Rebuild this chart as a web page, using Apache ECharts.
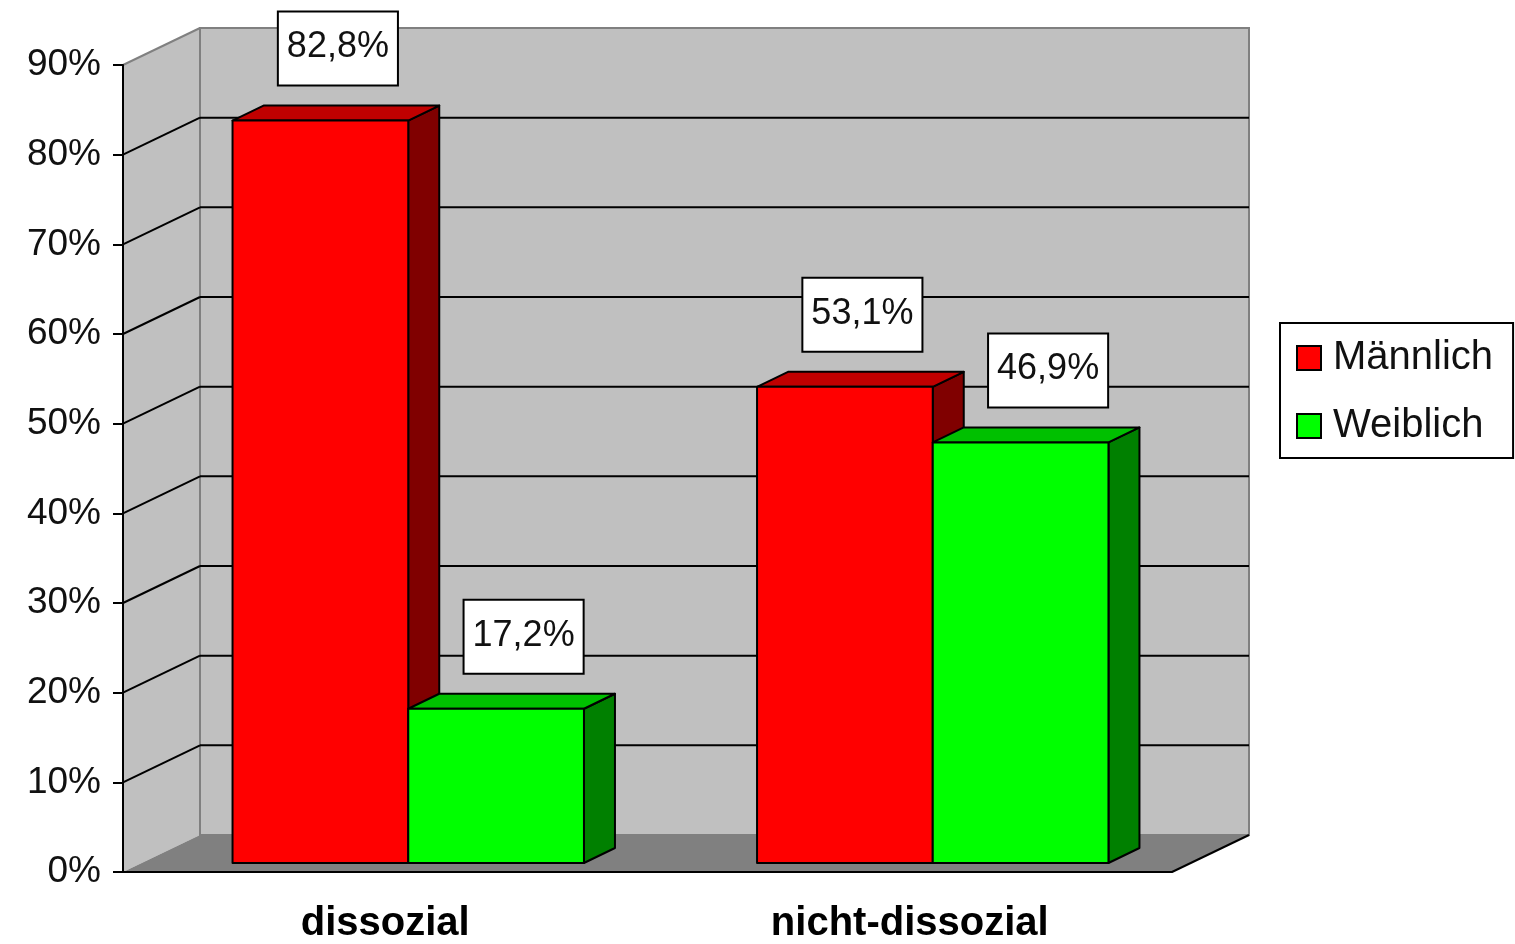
<!DOCTYPE html>
<html>
<head>
<meta charset="utf-8">
<script src="https://cdn.jsdelivr.net/npm/echarts@6/dist/echarts.min.js"></script>
<style>
  html, body { margin: 0; padding: 0; background: #fff; }
  #chart { width: 1515px; height: 944px; }
</style>
</head>
<body>
<div id="chart"></div>
<script>
const categories = ["dissozial", "nicht-dissozial"];
const maennlich = [82.8, 53.1];
const weiblich = [17.2, 46.9];
const yMax = 90;
const yStep = 10;
const gridValues = [10, 20, 30, 40, 50, 60, 70, 80];

const FONT = "'Liberation Sans', Arial, sans-serif";

// 3d look: wall depth and bar placement, in px
const WALL_DX = 77, WALL_DY = -37;
const BAR_SX = 23, BAR_SY = -9;
const BAR_DX = 31, BAR_DY = -15;

const palette = [
    { front: "#ff0000", top: "#c00000", side: "#800000", labelShift: 2 },
    { front: "#00ff00", top: "#00c000", side: "#008000", labelShift: 12 }
];

const chart = echarts.init(document.getElementById("chart"));

function renderWalls(params, api) {
    const cs = params.coordSys;
    const x0 = cs.x, x1 = cs.x + cs.width;
    const yTop = api.coord([0, yMax])[1];
    const yBase = api.coord([0, 0])[1];
    const children = [
        {
            type: "polygon",
            shape: { points: [[x0, yTop], [x0 + WALL_DX, yTop + WALL_DY], [x0 + WALL_DX, yBase + WALL_DY], [x0, yBase]] },
            style: { fill: "#c0c0c0" }
        },
        {
            type: "rect",
            shape: { x: x0 + WALL_DX, y: yTop + WALL_DY, width: cs.width, height: yBase - yTop },
            style: { fill: "#c0c0c0", stroke: "#808080", lineWidth: 2 }
        },
        {
            type: "polygon",
            shape: { points: [[x0, yBase], [x1, yBase], [x1 + WALL_DX, yBase + WALL_DY], [x0 + WALL_DX, yBase + WALL_DY]] },
            style: { fill: "#808080" }
        },
        {
            type: "line",
            shape: { x1: x0, y1: yTop, x2: x0 + WALL_DX, y2: yTop + WALL_DY },
            style: { stroke: "#808080", lineWidth: 2 }
        },
        {
            type: "line",
            shape: { x1: x1, y1: yBase, x2: x1 + WALL_DX, y2: yBase + WALL_DY },
            style: { stroke: "#000", lineWidth: 2 }
        }
    ];
    gridValues.forEach(v => {
        const y = api.coord([0, v])[1];
        children.push({
            type: "line",
            shape: { x1: x0 + WALL_DX, y1: y + WALL_DY, x2: x1 + WALL_DX, y2: y + WALL_DY },
            style: { stroke: "#000", lineWidth: 2 }
        });
        children.push({
            type: "line",
            shape: { x1: x0, y1: y, x2: x0 + WALL_DX, y2: y + WALL_DY },
            style: { stroke: "#000", lineWidth: 2 }
        });
    });
    return { type: "group", children };
}

function makeBarRenderer(sIndex) {
    const c = palette[sIndex];
    return function (params, api) {
        const i = api.value(0), v = api.value(1);
        const base = api.coord([i, 0]);
        const band = api.size([1, 0])[0];
        const bw = band * 0.335;
        const left = base[0] + BAR_SX + (sIndex === 0 ? -bw : 0);
        const right = left + bw;
        const top = api.coord([i, v])[1] + BAR_SY;
        const bottom = base[1] + BAR_SY;
        const stroke = { stroke: "#000", lineWidth: 2, lineJoin: "round" };
        const text = v.toFixed(1).replace(".", ",") + "%";
        return {
            type: "group",
            children: [
                {
                    type: "polygon",
                    shape: { points: [[right, top], [right + BAR_DX, top + BAR_DY], [right + BAR_DX, bottom + BAR_DY], [right, bottom]] },
                    style: Object.assign({ fill: c.side }, stroke)
                },
                {
                    type: "polygon",
                    shape: { points: [[left, top], [left + BAR_DX, top + BAR_DY], [right + BAR_DX, top + BAR_DY], [right, top]] },
                    style: Object.assign({ fill: c.top }, stroke)
                },
                {
                    type: "rect",
                    shape: { x: left, y: top, width: bw, height: bottom - top },
                    style: Object.assign({ fill: c.front }, stroke)
                },
                {
                    type: "text",
                    x: left + bw / 2 + BAR_DX / 2 + c.labelShift,
                    y: top + BAR_DY - 21,
                    style: {
                        text: text,
                        align: "center",
                        verticalAlign: "bottom",
                        fontFamily: FONT,
                        fontSize: 36,
                        lineHeight: 40,
                        fill: "#111",
                        backgroundColor: "#fff",
                        borderColor: "#000",
                        borderWidth: 2,
                        padding: [15, 8, 17, 8]
                    }
                }
            ]
        };
    };
}

const option = {
    animation: false,
    backgroundColor: "#fff",
    grid: { left: 123, right: 343, top: 65, bottom: 72 },
    legend: {
        orient: "vertical",
        left: 1280,
        top: 323,
        padding: [15, 20, 12, 16],
        itemWidth: 24,
        itemHeight: 24,
        itemGap: 28,
        backgroundColor: "#fff",
        borderColor: "#000",
        borderWidth: 2,
        borderRadius: 0,
        textStyle: { fontFamily: FONT, fontSize: 40, lineHeight: 40, color: "#111", padding: [0, 0, 0, 7] },
        data: [
            { name: "Männlich", icon: "rect" },
            { name: "Weiblich", icon: "rect" }
        ]
    },
    xAxis: {
        type: "category",
        data: categories,
        z: 5,
        axisLine: { lineStyle: { color: "#000", width: 2 } },
        axisTick: { length: 12, lineStyle: { color: "#000", width: 2 } },
        axisLabel: { fontFamily: FONT, fontSize: 40, fontWeight: "bold", color: "#000", margin: 32 },
        splitLine: { show: false }
    },
    yAxis: {
        type: "value",
        min: 0,
        max: yMax,
        interval: yStep,
        z: 5,
        axisLine: { show: true, lineStyle: { color: "#000", width: 2 } },
        axisTick: { show: true, length: 10, lineStyle: { color: "#000", width: 2 } },
        axisLabel: { fontFamily: FONT, fontSize: 37, color: "#111", margin: 22, formatter: "{value}%" },
        splitLine: { show: false }
    },
    series: [
        {
            name: "walls",
            type: "custom",
            z: 1,
            silent: true,
            clip: false,
            renderItem: renderWalls,
            data: [[0, 0]]
        },
        {
            name: "Männlich",
            type: "custom",
            z: 3,
            clip: false,
            itemStyle: { color: palette[0].front, borderColor: "#000", borderWidth: 1.5 },
            renderItem: makeBarRenderer(0),
            data: maennlich.map((v, i) => [i, v])
        },
        {
            name: "Weiblich",
            type: "custom",
            z: 3,
            clip: false,
            itemStyle: { color: palette[1].front, borderColor: "#000", borderWidth: 1.5 },
            renderItem: makeBarRenderer(1),
            data: weiblich.map((v, i) => [i, v])
        }
    ]
};

chart.setOption(option);
</script>
</body>
</html>
